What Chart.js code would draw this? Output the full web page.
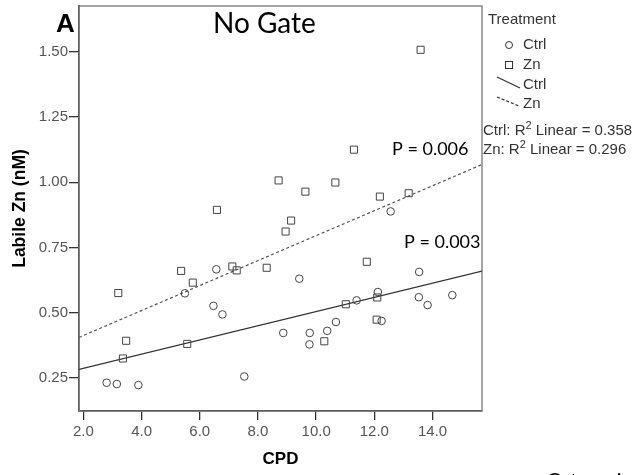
<!DOCTYPE html>
<html lang="en">
<head>
    <meta charset="UTF-8">
    <title>No Gate - Labile Zn vs CPD</title>
    <script src="https://cdn.jsdelivr.net/npm/chart.js"></script>
    <style>
        body { margin: 0; background: #fff; }
        #chart { display: block; }
    </style>
</head>
<body>
    <canvas id="chart" width="636" height="475"></canvas>

    <script>
        // Ctrl group (circles)
        const ctrlX = [2.80, 3.15, 3.89, 5.49, 6.47, 6.57, 6.78, 7.53, 8.87, 9.42, 9.77,
                       9.78, 10.38, 10.68, 11.39, 12.12, 12.25, 12.56, 13.53, 13.54, 13.83, 14.68];
        const ctrlY = [0.231, 0.226, 0.222, 0.574, 0.526, 0.666, 0.493, 0.255, 0.422, 0.630, 0.378,
                       0.422, 0.430, 0.464, 0.547, 0.579, 0.468, 0.888, 0.559, 0.656, 0.529, 0.567];

        // Zn group (squares)
        const znX = [3.20, 3.36, 3.47, 5.36, 5.57, 5.76, 6.59, 7.12, 7.27, 8.30, 8.71, 8.95,
                     9.14, 9.63, 10.66, 11.02, 10.28, 11.30, 11.74, 12.08, 12.10, 12.19, 13.18, 13.59];
        const znY = [0.575, 0.324, 0.392, 0.660, 0.380, 0.615, 0.894, 0.677, 0.662, 0.672, 1.007, 0.811,
                     0.853, 0.964, 0.999, 0.532, 0.390, 1.125, 0.695, 0.473, 0.558, 0.945, 0.958, 1.508];

        // linear fit lines (ends at the axis limits)
        const fitX = [1.85, 15.70];
        const ctrlFitY = [0.282, 0.659];
        const znFitY = [0.405, 1.068];

        const xTicks = [2, 4, 6, 8, 10, 12, 14];
        const yTicks = [0.25, 0.50, 0.75, 1.00, 1.25, 1.50];

        const ARIAL = '"Liberation Sans", Arial, sans-serif';
        const CALIBRI = 'Lato, "Open Sans", sans-serif';

        function toPoints(xs, ys) {
            return xs.map((x, i) => ({ x: x, y: ys[i] }));
        }

        // frame around the plot, drawn before the marks
        const framePlugin = {
            id: 'frame',
            beforeDatasetsDraw(chart) {
                const { ctx, chartArea: a } = chart;
                ctx.save();
                ctx.strokeStyle = '#777';
                ctx.lineWidth = 1.3;
                ctx.strokeRect(a.left, a.top, a.right - a.left, a.bottom - a.top);
                ctx.restore();
            }
        };

        // panel letter, subtitle, P values and the SPSS-style legend
        const textPlugin = {
            id: 'texts',
            afterDraw(chart) {
                const ctx = chart.ctx;
                ctx.save();
                ctx.textBaseline = 'middle';
                ctx.textAlign = 'left';

                ctx.fillStyle = '#000';
                ctx.font = 'bold 26px ' + ARIAL;
                ctx.fillText('A', 56, 25);

                ctx.font = '28px ' + CALIBRI;
                ctx.fillText('No Gate', 213, 24);

                ctx.font = '18px ' + CALIBRI;
                ctx.fillText('P = 0.006', 392, 149);
                ctx.fillText('P = 0.003', 404, 242);

                ctx.font = '20px ' + CALIBRI;
                ctx.textBaseline = 'top';
                ctx.fillText('Categorical', 547, 471);
                ctx.textBaseline = 'middle';

                // legend
                ctx.fillStyle = '#333';
                ctx.strokeStyle = '#333';
                ctx.font = '15px ' + ARIAL;
                ctx.fillText('Treatment', 488, 20);

                ctx.lineWidth = 1;
                ctx.beginPath();
                ctx.arc(509, 45, 3.5, 0, Math.PI * 2);
                ctx.stroke();
                ctx.strokeRect(505.5, 61.5, 7, 7);

                ctx.lineWidth = 1.2;
                ctx.beginPath();
                ctx.moveTo(497, 77);
                ctx.lineTo(520, 88);
                ctx.stroke();

                ctx.setLineDash([3, 2]);
                ctx.beginPath();
                ctx.moveTo(497, 97);
                ctx.lineTo(519, 106);
                ctx.stroke();
                ctx.setLineDash([]);

                ctx.font = '15px ' + ARIAL;
                ctx.fillText('Ctrl', 523, 45);
                ctx.fillText('Zn', 523, 65);
                ctx.fillText('Ctrl', 523, 85);
                ctx.fillText('Zn', 523, 104);

                const rLines = [['Ctrl: R', ' Linear = 0.358', 131], ['Zn: R', ' Linear = 0.296', 150]];
                rLines.forEach(([a, b, y]) => {
                    let x = 483;
                    ctx.font = '15px ' + ARIAL;
                    ctx.fillText(a, x, y);
                    x += ctx.measureText(a).width;
                    ctx.font = '11px ' + ARIAL;
                    ctx.fillText('2', x, y - 5);
                    x += ctx.measureText('2').width;
                    ctx.font = '15px ' + ARIAL;
                    ctx.fillText(b, x, y);
                });

                ctx.restore();
            }
        };

        const ctx = document.getElementById('chart').getContext('2d');
        const chart = new Chart(ctx, {
            type: 'scatter',
            data: {
                datasets: [
                    {
                        label: 'Ctrl',
                        data: toPoints(ctrlX, ctrlY),
                        pointStyle: 'circle',
                        pointRadius: 3.8,
                        pointBorderWidth: 1,
                        borderColor: '#444',
                        backgroundColor: 'rgba(0,0,0,0)'
                    },
                    {
                        label: 'Zn',
                        data: toPoints(znX, znY),
                        pointStyle: 'rect',
                        pointRadius: 5,
                        pointBorderWidth: 1,
                        borderColor: '#444',
                        backgroundColor: 'rgba(0,0,0,0)'
                    },
                    {
                        type: 'line',
                        label: 'Ctrl fit',
                        data: toPoints(fitX, ctrlFitY),
                        borderColor: '#333',
                        borderWidth: 1.2,
                        pointRadius: 0,
                        fill: false
                    },
                    {
                        type: 'line',
                        label: 'Zn fit',
                        data: toPoints(fitX, znFitY),
                        borderColor: '#555',
                        borderWidth: 1.2,
                        borderDash: [3, 2.5],
                        pointRadius: 0,
                        fill: false
                    }
                ]
            },
            options: {
                responsive: false,
                animation: false,
                devicePixelRatio: 1,
                layout: { padding: { top: 5, right: 154, left: 0, bottom: 0 } },
                plugins: {
                    legend: { display: false },
                    tooltip: { enabled: false }
                },
                scales: {
                    x: {
                        type: 'linear',
                        min: 1.85,
                        max: 15.70,
                        afterBuildTicks: s => { s.ticks = xTicks.map(v => ({ value: v })); },
                        afterFit: s => { s.height = 64; s.paddingRight = 0; s.paddingLeft = 0; },
                        grid: { drawOnChartArea: false, tickLength: 9, color: '#333', lineWidth: 1.3 },
                        border: { color: '#333', width: 1.5 },
                        ticks: {
                            padding: 3,
                            color: '#555',
                            font: { family: ARIAL, size: 15 },
                            maxRotation: 0,
                            autoSkip: false,
                            callback: v => v.toFixed(1)
                        },
                        title: {
                            display: true,
                            text: 'CPD',
                            color: '#000',
                            font: { family: ARIAL, size: 17, weight: 'bold' },
                            padding: { top: 0, bottom: 5 }
                        }
                    },
                    y: {
                        type: 'linear',
                        min: 0.1226,
                        max: 1.676,
                        afterBuildTicks: s => { s.ticks = yTicks.map(v => ({ value: v })); },
                        afterFit: s => { s.width = 79; s.paddingTop = 0; s.paddingBottom = 0; },
                        grid: { drawOnChartArea: false, tickLength: 10, color: '#333', lineWidth: 1.3 },
                        border: { color: '#333', width: 1.5 },
                        ticks: {
                            padding: 1,
                            color: '#555',
                            font: { family: ARIAL, size: 15 },
                            autoSkip: false,
                            callback: v => v.toFixed(2)
                        },
                        title: {
                            display: true,
                            text: 'Labile Zn (nM)',
                            color: '#000',
                            font: { family: ARIAL, size: 17.5, weight: 'bold' },
                            padding: { top: 10, bottom: 0 }
                        }
                    }
                }
            },
            plugins: [framePlugin, textPlugin]
        });
    </script>
</body>
</html>
